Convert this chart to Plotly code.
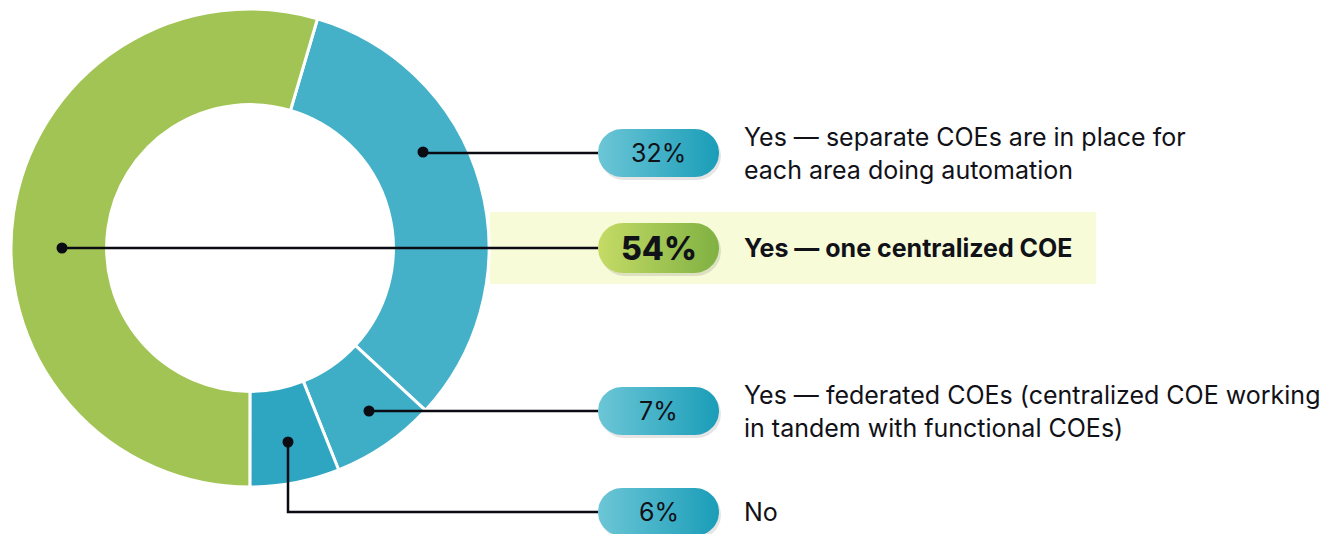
import numpy as np
import plotly.graph_objects as go

# survey answers, in the order they sit round the ring (clockwise from the top)
categories = [
    "Yes — separate COEs are in place for<br>each area doing automation",
    "Yes — federated COEs (centralized COE working<br>in tandem with functional COEs)",
    "No",
    "Yes — one centralized COE",
]
values = [32, 7, 6, 54]
pct_labels = ["32%", "7%", "6%", "54%"]

W, H = 1331, 534
slice_colors = ["#45b1c8", "#3eaec6", "#2fa6c1", "#a2c455"]
teal_pill = [[0, "#6cc6d6"], [1, "#1a9db8"]]
green_pill = [[0, "#c5db66"], [1, "#7fb142"]]

# row layout: pill centre y and leader dot for each answer (pixels)
rows_y = [153, 411, 512, 248]
dots = [(423, 152), (369, 411), (288, 442), (62, 248)]
pill_x0, pill_x1 = 598, 719
label_x = 742
FONT = "Inter"


def pill(cx0, cx1, cy, h):
    r = h / 2
    t1 = np.linspace(np.pi / 2, 3 * np.pi / 2, 30)
    t2 = np.linspace(-np.pi / 2, np.pi / 2, 30)
    xs = list(cx0 + r + r * np.cos(t1)) + list(cx1 - r + r * np.cos(t2))
    ys = list(cy - r * np.sin(t1)) + list(cy - r * np.sin(t2))
    return xs + [xs[0]], ys + [ys[0]]


fig = go.Figure()

fig.add_trace(go.Pie(
    values=values,
    labels=categories,
    sort=False,
    direction="clockwise",
    rotation=16.4,
    hole=0.6,
    marker=dict(colors=slice_colors, line=dict(color="white", width=3)),
    textinfo="none",
    hoverinfo="skip",
    showlegend=False,
    domain=dict(x=[11 / W, 489 / W], y=[1 - 487 / H, 1 - 9 / H]),
))

shapes = []
# highlight band behind the main answer
shapes.append(dict(type="rect", xref="x", yref="y", x0=490, x1=1096, y0=212, y1=284,
                   fillcolor="#f7fbd8", line=dict(width=0), layer="below"))

for i, (lab, pct) in enumerate(zip(categories, pct_labels)):
    cy = rows_y[i]
    big = values[i] == max(values)
    h = 50 if big else 48
    # soft shadow
    sx, sy = pill(pill_x0 + 2, pill_x1 + 2, cy + 3, h)
    fig.add_trace(go.Scatter(x=sx, y=sy, mode="lines", fill="toself", line=dict(width=0),
                             fillcolor="rgba(0,0,0,0.10)", hoverinfo="skip", showlegend=False))
    px_, py_ = pill(pill_x0, pill_x1, cy, h)
    fig.add_trace(go.Scatter(
        x=px_, y=py_, mode="lines", fill="toself", line=dict(width=0),
        fillgradient=dict(type="horizontal", colorscale=green_pill if big else teal_pill),
        hoverinfo="skip", showlegend=False))

    fig.add_annotation(x=(pill_x0 + pill_x1) / 2, y=cy, xref="x", yref="y", text=pct,
                       showarrow=False, xanchor="center", yanchor="middle",
                       font=dict(size=32 if big else 25, color="#111118", family=FONT,
                                 weight=800 if big else 400))
    fig.add_annotation(x=label_x, y=cy, xref="x", yref="y", text=lab,
                       showarrow=False, xanchor="left", yanchor="middle", align="left",
                       font=dict(size=25, color="#111118", family=FONT,
                                 weight=700 if big else 400))

    # leader line + dot
    dx, dy = dots[i]
    if dy == cy:
        path = f"M{dx},{dy} H{pill_x0}"
    else:
        path = f"M{dx},{dy} V{cy} H{pill_x0}"
    shapes.append(dict(type="path", xref="x", yref="y", path=path,
                       line=dict(color="#0b0b14", width=2.5)))
    shapes.append(dict(type="circle", xref="x", yref="y", x0=dx - 5.5, x1=dx + 5.5,
                       y0=dy - 5.5, y1=dy + 5.5, fillcolor="#0b0b14", line=dict(width=0)))

fig.update_layout(
    width=W, height=H,
    margin=dict(l=0, r=0, t=0, b=0),
    paper_bgcolor="white", plot_bgcolor="rgba(0,0,0,0)",
    xaxis=dict(range=[0, W], visible=False, fixedrange=True),
    yaxis=dict(range=[H, 0], visible=False, fixedrange=True),
    shapes=shapes,
    showlegend=False,
)

# drop the browser's default body margin so the figure sits at the page corner
fig.write_html("out.html", config={"displayModeBar": False},
               post_script="document.body.style.margin='0';")
